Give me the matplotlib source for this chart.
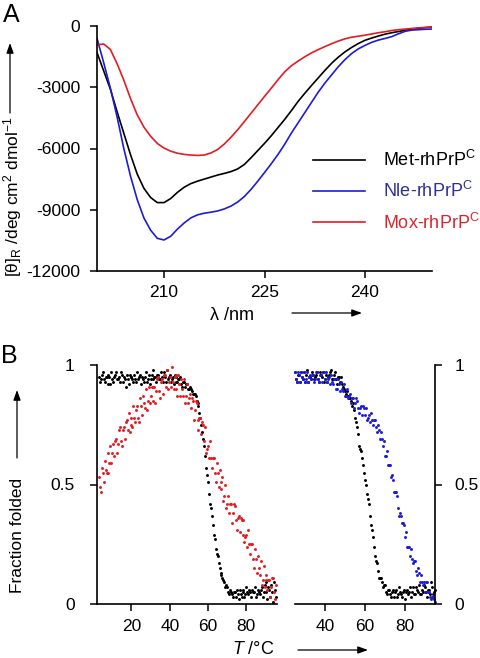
import numpy as np
import matplotlib
matplotlib.use('Agg')
import matplotlib.pyplot as plt
from matplotlib.patches import FancyArrowPatch

plt.rcParams['font.family'] = ['Liberation Sans', 'DejaVu Sans']
plt.rcParams['mathtext.fontset'] = 'custom'
plt.rcParams['mathtext.rm'] = 'Liberation Sans'
plt.rcParams['mathtext.it'] = 'Liberation Sans:italic'

# ---- panel A: CD spectra ----
wl = np.arange(200, 251)
met_cd = [-1300, -2200, -3100, -4200, -5250, -6300, -7250, -7950, -8400, -8650,
          -8650, -8450, -8150, -7900, -7720, -7600, -7500, -7400, -7300, -7220,
          -7130, -7000, -6780, -6450, -6100, -5750, -5380, -4980, -4580, -4150,
          -3700, -3300, -2920, -2550, -2180, -1830, -1530, -1270, -1050, -860,
          -700, -590, -490, -400, -330, -270, -210, -160, -110, -80, -50]
nle_cd = [-600, -1800, -3050, -4450, -6000, -7350, -8500, -9400, -10000, -10400,
          -10480, -10300, -9950, -9650, -9400, -9250, -9170, -9120, -9060, -8960,
          -8820, -8620, -8350, -8000, -7600, -7180, -6750, -6300, -5800, -5250,
          -4750, -4250, -3750, -3250, -2800, -2400, -2000, -1650, -1350, -1120,
          -950, -800, -690, -610, -520, -380, -260, -200, -180, -160, -150]
mox_cd = [-930, -880, -1150, -1850, -2650, -3550, -4350, -4950, -5400, -5750,
          -5980, -6130, -6230, -6290, -6320, -6340, -6320, -6220, -6050, -5780,
          -5450, -5080, -4680, -4270, -3860, -3450, -3050, -2640, -2250, -1950,
          -1720, -1510, -1320, -1160, -1010, -870, -740, -630, -550, -500,
          -450, -390, -330, -280, -220, -180, -150, -120, -90, -70, -50]
cd_labels = ['Met-rhPrP$^\\mathregular{C}$', 'Nle-rhPrP$^\\mathregular{C}$',
             'Mox-rhPrP$^\\mathregular{C}$']

# ---- panel B: thermal unfolding, left (Met vs Mox) ----
t_left_a = np.arange(3, 96)
t_left_b = np.arange(3.5, 96)
met_left_a = [0.95, 0.94, 0.97, 0.93, 0.95, 0.96, 0.92, 0.94, 0.95, 0.97,
              0.94, 0.93, 0.96, 0.95, 0.91, 0.94, 0.96, 0.95, 0.93, 0.94,
              0.97, 0.95, 0.92, 0.94, 0.95, 0.93, 0.96, 0.94, 0.98, 0.95,
              0.93, 0.96, 0.94, 0.95, 0.97, 0.93, 0.94, 0.96, 0.94, 0.92,
              0.95, 0.93, 0.94, 0.92, 0.93, 0.91, 0.92, 0.90, 0.90, 0.88,
              0.88, 0.85, 0.83, 0.78, 0.72, 0.66, 0.57, 0.51, 0.42, 0.37,
              0.29, 0.23, 0.20, 0.15, 0.12, 0.10, 0.07, 0.07, 0.04, 0.05,
              0.03, 0.05, 0.06, 0.02, 0.04, 0.05, 0.03, 0.07, 0.04, 0.05,
              0.06, 0.05, 0.03, 0.06, 0.04, 0.07, 0.05, 0.09, 0.02, 0.06,
              0.08, 0.01, 0.06]
met_left_b = [0.93, 0.96, 0.94, 0.95, 0.92, 0.95, 0.97, 0.93, 0.96, 0.94,
              0.95, 0.97, 0.93, 0.94, 0.96, 0.92, 0.95, 0.94, 0.96, 0.93,
              0.94, 0.96, 0.95, 0.93, 0.97, 0.94, 0.92, 0.96, 0.94, 0.95,
              0.96, 0.94, 0.97, 0.93, 0.95, 0.98, 0.95, 0.93, 0.95, 0.96,
              0.93, 0.94, 0.95, 0.91, 0.93, 0.92, 0.90, 0.91, 0.89, 0.88,
              0.87, 0.84, 0.80, 0.75, 0.69, 0.62, 0.54, 0.46, 0.40, 0.33,
              0.27, 0.21, 0.17, 0.13, 0.11, 0.09, 0.08, 0.05, 0.06, 0.04,
              0.05, 0.03, 0.04, 0.06, 0.03, 0.06, 0.04, 0.05, 0.06, 0.03,
              0.05, 0.07, 0.04, 0.05, 0.06, 0.03, 0.08, 0.05, 0.07, 0.03,
              0.05, 0.09, 0.03]
mox_left_a = [0.53, 0.47, 0.55, 0.60, 0.55, 0.55, 0.66, 0.63, 0.62, 0.69,
              0.67, 0.74, 0.66, 0.74, 0.76, 0.73, 0.72, 0.78, 0.83, 0.76,
              0.83, 0.76, 0.83, 0.87, 0.82, 0.81, 0.91, 0.87, 0.85, 0.91,
              0.89, 0.95, 0.86, 0.94, 0.96, 0.91, 0.90, 0.95, 0.99, 0.90,
              0.96, 0.87, 0.92, 0.94, 0.87, 0.84, 0.92, 0.86, 0.82, 0.85,
              0.81, 0.84, 0.73, 0.78, 0.76, 0.68, 0.63, 0.66, 0.68, 0.57,
              0.61, 0.51, 0.55, 0.56, 0.48, 0.43, 0.50, 0.42, 0.38, 0.42,
              0.38, 0.41, 0.31, 0.37, 0.36, 0.29, 0.26, 0.29, 0.31, 0.21,
              0.25, 0.15, 0.19, 0.20, 0.12, 0.08, 0.16, 0.10, 0.06, 0.10,
              0.07, 0.11, 0.02]
mox_left_b = [0.49, 0.57, 0.51, 0.56, 0.63, 0.59, 0.59, 0.67, 0.68, 0.63,
              0.73, 0.68, 0.73, 0.69, 0.77, 0.80, 0.75, 0.74, 0.78, 0.81,
              0.78, 0.86, 0.79, 0.84, 0.90, 0.85, 0.84, 0.91, 0.91, 0.84,
              0.94, 0.89, 0.93, 0.88, 0.96, 0.98, 0.93, 0.91, 0.93, 0.95,
              0.90, 0.96, 0.87, 0.90, 0.94, 0.87, 0.84, 0.88, 0.86, 0.77,
              0.85, 0.77, 0.78, 0.71, 0.75, 0.74, 0.65, 0.61, 0.61, 0.61,
              0.55, 0.59, 0.49, 0.51, 0.53, 0.45, 0.40, 0.45, 0.42, 0.34,
              0.42, 0.35, 0.36, 0.30, 0.35, 0.35, 0.28, 0.24, 0.25, 0.25,
              0.19, 0.23, 0.13, 0.15, 0.18, 0.10, 0.07, 0.12, 0.10, 0.03,
              0.11, 0.05, 0.08]

# ---- panel B: thermal unfolding, right (Met vs Nle) ----
t_right_a = np.arange(25, 96)
t_right_b = np.arange(25.5, 95)
met_right_a = [0.97, 0.93, 0.96, 0.97, 0.94, 0.93, 0.98, 0.95, 0.94, 0.96,
               0.95, 0.97, 0.93, 0.96, 0.97, 0.94, 0.93, 0.96, 0.98, 0.94,
               0.97, 0.92, 0.95, 0.95, 0.91, 0.89, 0.89, 0.86, 0.85, 0.84,
               0.78, 0.74, 0.66, 0.64, 0.58, 0.52, 0.46, 0.42, 0.33, 0.28,
               0.20, 0.17, 0.11, 0.11, 0.07, 0.08, 0.04, 0.06, 0.03, 0.06,
               0.05, 0.03, 0.07, 0.04, 0.05, 0.02, 0.06, 0.05, 0.03, 0.07,
               0.04, 0.06, 0.08, 0.04, 0.05, 0.07, 0.03, 0.06, 0.09, 0.04,
               0.06]
met_right_b = [0.94, 0.96, 0.93, 0.95, 0.97, 0.96, 0.93, 0.95, 0.97, 0.94,
               0.96, 0.94, 0.97, 0.95, 0.93, 0.96, 0.95, 0.97, 0.94, 0.96,
               0.94, 0.95, 0.93, 0.92, 0.90, 0.88, 0.87, 0.86, 0.83, 0.81,
               0.76, 0.71, 0.65, 0.61, 0.55, 0.50, 0.44, 0.37, 0.31, 0.24,
               0.18, 0.14, 0.11, 0.09, 0.08, 0.05, 0.06, 0.04, 0.05, 0.03,
               0.06, 0.04, 0.05, 0.03, 0.06, 0.05, 0.04, 0.07, 0.05, 0.04,
               0.07, 0.05, 0.04, 0.06, 0.08, 0.05, 0.06, 0.04, 0.07, 0.05]
nle_right_a = [0.97, 0.93, 0.96, 0.97, 0.94, 0.93, 0.97, 0.95, 0.94, 0.96,
               0.94, 0.97, 0.93, 0.96, 0.97, 0.94, 0.93, 0.95, 0.96, 0.92,
               0.94, 0.90, 0.92, 0.93, 0.89, 0.87, 0.90, 0.87, 0.84, 0.86,
               0.84, 0.85, 0.80, 0.83, 0.83, 0.79, 0.77, 0.79, 0.80, 0.75,
               0.77, 0.72, 0.73, 0.72, 0.66, 0.62, 0.64, 0.58, 0.53, 0.52,
               0.47, 0.45, 0.37, 0.37, 0.34, 0.28, 0.24, 0.24, 0.23, 0.17,
               0.18, 0.12, 0.13, 0.12, 0.08, 0.05, 0.09, 0.05, 0.02, 0.03,
               0.01]
nle_right_b = [0.94, 0.97, 0.93, 0.95, 0.97, 0.94, 0.93, 0.96, 0.96, 0.93,
               0.97, 0.94, 0.96, 0.93, 0.97, 0.97, 0.94, 0.92, 0.93, 0.94,
               0.90, 0.94, 0.89, 0.90, 0.92, 0.87, 0.86, 0.88, 0.86, 0.82,
               0.86, 0.82, 0.82, 0.79, 0.82, 0.82, 0.78, 0.76, 0.77, 0.77,
               0.74, 0.75, 0.69, 0.69, 0.68, 0.62, 0.58, 0.58, 0.54, 0.47,
               0.47, 0.40, 0.38, 0.34, 0.33, 0.30, 0.24, 0.20, 0.19, 0.18,
               0.14, 0.15, 0.09, 0.09, 0.09, 0.09, 0.05, 0.03, 0.03, 0.02]

BLACK = '#000000'
BLUE = '#1c1cd6'
RED = '#e31b23'
W, H = 480, 658
FS = 12.5
DOT = 4.5


def fx(px):
    return px / W


def fy(py):
    return 1 - py / H


def style_axis(ax):
    for s in ['top', 'right']:
        ax.spines[s].set_visible(False)
    for s in ax.spines.values():
        s.set_linewidth(1.2)
    ax.tick_params(direction='out', length=5, width=1.1, labelsize=FS)


def arrow(x0, y0, x1, y1):
    fig.add_artist(FancyArrowPatch(
        (fx(x0), fy(y0)), (fx(x1), fy(y1)), transform=fig.transFigure,
        arrowstyle='-|>,head_length=0.5,head_width=0.18', color='black',
        lw=0.9, shrinkA=0, shrinkB=0, mutation_scale=12))


fig = plt.figure(figsize=(4.8, 6.58), dpi=100)

# panel A
axA = fig.add_axes([fx(97), fy(271), fx(432 - 97), (271 - 26) / H])
axA.plot(wl, met_cd, color=BLACK, lw=1.2, label=cd_labels[0])
axA.plot(wl, nle_cd, color=BLUE, lw=1.2, label=cd_labels[1])
axA.plot(wl, mox_cd, color=RED, lw=1.2, label=cd_labels[2])
axA.set_xlim(200, 250)
axA.set_ylim(-12000, 0)
axA.set_xticks([210, 225, 240])
axA.set_yticks([0, -3000, -6000, -9000, -12000])
axA.set_yticklabels(['0', '-3000', '-6000', '-9000', '-12000'])
style_axis(axA)
axA.tick_params(axis='y', pad=7)
axA.tick_params(axis='x', pad=5)
axA.legend(loc='upper left', bbox_to_anchor=(fx(313), fy(150)),
           bbox_transform=fig.transFigure, frameon=False, fontsize=13,
           handlelength=2.9, handletextpad=0.95, labelspacing=0.62,
           borderaxespad=0, borderpad=0,
           labelcolor=[BLACK, '#2e3192', '#d7262e'])

# panel B left
axL = fig.add_axes([fx(97), fy(604), fx(277 - 97), (604 - 365) / H])
for t, v, c in [(t_left_a, met_left_a, BLACK), (t_left_b, met_left_b, BLACK),
                (t_left_a, mox_left_a, RED), (t_left_b, mox_left_b, RED)]:
    axL.scatter(t, v, s=DOT, color=c, lw=0, clip_on=False)
axL.set_xlim(2, 96)
axL.set_ylim(0, 1)
axL.set_xticks([20, 40, 60, 80])
axL.set_yticks([0, 0.5, 1])
axL.set_yticklabels(['0', '0.5', '1'])
style_axis(axL)
axL.tick_params(axis='y', pad=11)
axL.tick_params(axis='x', pad=6)

# panel B right
axR = fig.add_axes([fx(295), fy(604), fx(435 - 295), (604 - 365) / H])
for t, v, c in [(t_right_a, met_right_a, BLACK), (t_right_b, met_right_b, BLACK),
                (t_right_a, nle_right_a, BLUE), (t_right_b, nle_right_b, BLUE)]:
    axR.scatter(t, v, s=DOT, color=c, lw=0, clip_on=False)
axR.set_xlim(25, 95)
axR.set_ylim(0, 1)
axR.set_xticks([40, 60, 80])
axR.set_yticks([0, 0.5, 1])
axR.set_yticklabels(['0', '0.5', '1'])
axR.spines['top'].set_visible(False)
axR.spines['left'].set_visible(False)
for s in axR.spines.values():
    s.set_linewidth(1.2)
axR.yaxis.tick_right()
axR.tick_params(direction='out', length=5, width=1.1, labelsize=FS)
axR.tick_params(axis='y', pad=9)
axR.tick_params(axis='x', pad=6)

# panel letters, axis labels and arrows
fig.text(fx(3), fy(15), 'A', fontsize=18, va='center', ha='left')
fig.text(fx(1), fy(356), 'B', fontsize=18, va='center', ha='left')

fig.text(fx(13), fy(197),
         '[θ]$_\\mathregular{R}$ /deg cm$^\\mathregular{2}$ dmol$^\\mathregular{-1}$',
         rotation=90, fontsize=FS, ha='center', va='center')
fig.text(fx(232), fy(316), 'λ /nm', fontsize=13, ha='center', va='center')
fig.text(fx(18), fy(535), 'Fraction folded', rotation=90, fontsize=FS,
         ha='center', va='center')
fig.text(fx(253), fy(650), '$T$ /°C', fontsize=13, ha='center', va='center')

arrow(10, 113, 10, 43)
arrow(292, 313, 362, 313)
arrow(17, 458, 17, 390)
arrow(298, 650, 368, 650)

fig.savefig('out.png', dpi=100)
